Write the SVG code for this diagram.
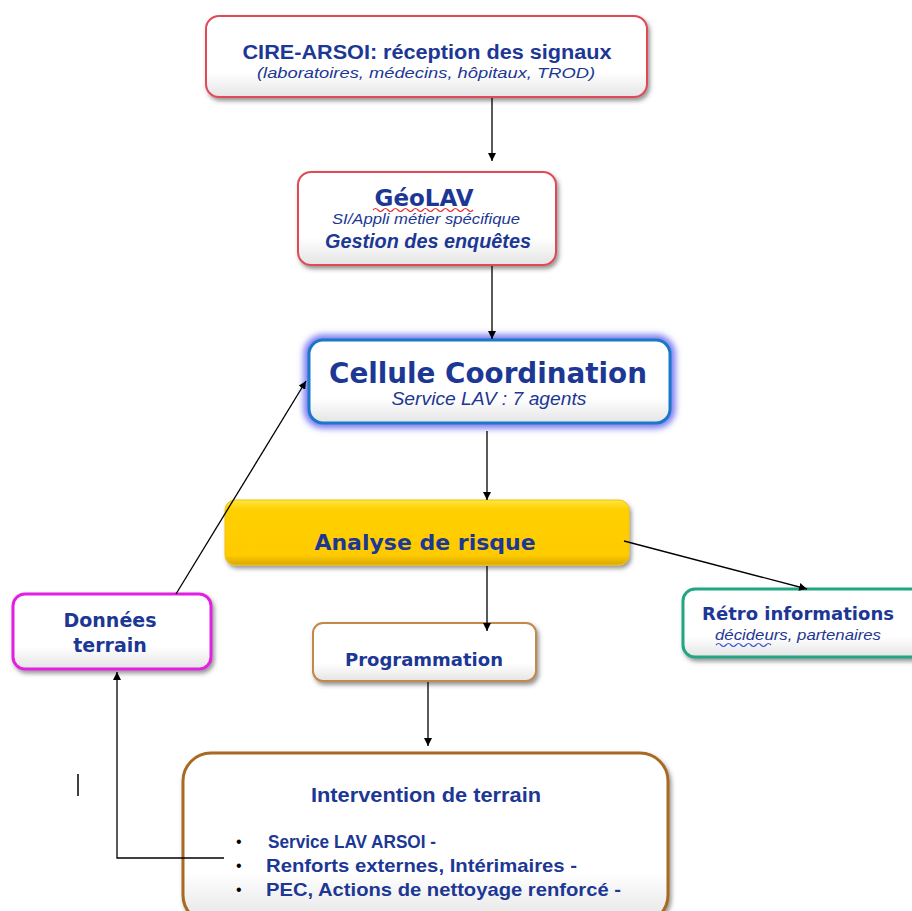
<svg xmlns="http://www.w3.org/2000/svg" width="912" height="911" viewBox="0 0 912 911">
<defs>
<style>
.t{fill:#1c3794;font-family:"Liberation Sans",Arial,sans-serif;}
.v{fill:#1c3794;font-family:"DejaVu Sans",Verdana,sans-serif;font-weight:bold;}
.b{font-weight:bold;}
.i{font-style:italic;}
.k{fill:#000;font-family:"Liberation Sans",Arial,sans-serif;}
.box{fill:url(#wg);filter:url(#sh);}
.ln{stroke:#000;stroke-width:1.3;fill:none;}
</style>
<linearGradient id="wg" x1="0" y1="0" x2="0" y2="1">
<stop offset="0" stop-color="#ffffff"/>
<stop offset="0.7" stop-color="#ffffff"/>
<stop offset="1" stop-color="#e4e4e4"/>
</linearGradient>
<linearGradient id="yg" x1="0" y1="0" x2="0" y2="1">
<stop offset="0" stop-color="#ffe640"/>
<stop offset="0.15" stop-color="#ffd000"/>
<stop offset="0.85" stop-color="#ffcb00"/>
<stop offset="1" stop-color="#d9a800"/>
</linearGradient>
<filter id="sh" x="-10%" y="-20%" width="125%" height="150%">
<feDropShadow dx="2" dy="3" stdDeviation="2" flood-color="#404040" flood-opacity="0.55"/>
</filter>
<filter id="glow" x="-20%" y="-40%" width="140%" height="180%">
<feGaussianBlur stdDeviation="3"/>
</filter>
<marker id="ah" viewBox="0 0 10 10" refX="10" refY="5" markerWidth="8" markerHeight="8" markerUnits="userSpaceOnUse" orient="auto">
<path d="M0,0 L10,5 L0,10 z" fill="#000"/>
</marker>
</defs>
<rect width="912" height="911" fill="#fff"/>

<g id="cire">
<rect class="box" x="206" y="16" width="441" height="81" rx="13" stroke="#e04a55" stroke-width="2"/>
<text class="t b" x="427" y="59" font-size="20" text-anchor="middle" textLength="369" lengthAdjust="spacingAndGlyphs">CIRE-ARSOI: réception des signaux</text>
<text class="t i" x="426" y="78" font-size="15" text-anchor="middle" textLength="338" lengthAdjust="spacingAndGlyphs">(laboratoires, médecins, hôpitaux, TROD)</text>
</g>

<g id="geolav">
<rect class="box" x="298" y="172" width="258" height="93" rx="13" stroke="#e04a55" stroke-width="2"/>
<text class="v" x="424" y="206" font-size="23" text-anchor="middle">GéoLAV</text>
<path d="M373,210 q2.5,-3 5,0 t5,0 t5,0 t5,0 t5,0 t5,0 t5,0 t5,0 t5,0 t5,0 t5,0 t5,0 t5,0 t5,0 t5,0 t5,0 t5,0 t5,0 t5,0 t5,0" fill="none" stroke="#e03030" stroke-width="1.2"/>
<text class="t i" x="426" y="224" font-size="15" text-anchor="middle" textLength="188" lengthAdjust="spacingAndGlyphs">SI/Appli métier spécifique</text>
<text class="t b i" x="428" y="248" font-size="20" text-anchor="middle" textLength="206" lengthAdjust="spacingAndGlyphs">Gestion des enquêtes</text>
</g>

<g id="cellule">
<rect x="309" y="340" width="361" height="83" rx="14" fill="none" stroke="#7c7cf2" stroke-width="11" filter="url(#glow)"/>
<rect x="309" y="340" width="361" height="83" rx="14" fill="url(#wg)" stroke="#1a78c8" stroke-width="3"/>
<text class="v" x="488" y="383" font-size="28" text-anchor="middle" textLength="318" lengthAdjust="spacingAndGlyphs">Cellule Coordination</text>
<text class="t i" x="489" y="405" font-size="18" text-anchor="middle" textLength="195" lengthAdjust="spacingAndGlyphs">Service LAV : 7 agents</text>
</g>

<g id="analyse">
<rect x="225" y="500" width="404" height="65" rx="10" fill="url(#yg)" stroke="#f2c200" stroke-width="1" filter="url(#sh)"/>
<text class="v" x="425" y="550" font-size="22" text-anchor="middle">Analyse de risque</text>
</g>

<g id="donnees">
<rect class="box" x="13" y="594" width="198" height="75" rx="12" stroke="#e020e0" stroke-width="3"/>
<text class="v" x="110" y="627" font-size="19" text-anchor="middle">Données</text>
<text class="v" x="110" y="652" font-size="19" text-anchor="middle">terrain</text>
</g>

<g id="retro">
<rect class="box" x="683" y="589" width="240" height="68" rx="12" stroke="#23a585" stroke-width="3"/>
<text class="v" x="798" y="620" font-size="18" text-anchor="middle">Rétro informations</text>
<text class="t i" x="798" y="640" font-size="15" text-anchor="middle" textLength="166" lengthAdjust="spacingAndGlyphs">décideurs, partenaires</text>
<path d="M716,645 q2.5,-3 5,0 t5,0 t5,0 t5,0 t5,0 t5,0 t5,0 t5,0 t5,0 t5,0 t5,0" fill="none" stroke="#3a50d0" stroke-width="1.2"/>
</g>

<g id="programmation">
<rect class="box" x="313" y="623" width="223" height="58" rx="10" stroke="#c08a4a" stroke-width="2"/>
<text class="v" x="424" y="666" font-size="18" text-anchor="middle">Programmation</text>
</g>

<g id="intervention">
<rect class="box" x="183" y="753" width="485" height="170" rx="28" stroke="#a86a20" stroke-width="3"/>
<text class="t b" x="426" y="802" font-size="21" text-anchor="middle" textLength="230" lengthAdjust="spacingAndGlyphs">Intervention de terrain</text>
<text class="k" x="236" y="847" font-size="16">•</text>
<text class="k" x="236" y="871" font-size="16">•</text>
<text class="k" x="236" y="895" font-size="16">•</text>
<text class="t b" x="268" y="848" font-size="19" textLength="168" lengthAdjust="spacingAndGlyphs">Service  LAV ARSOI -</text>
<text class="t b" x="266" y="872" font-size="19" textLength="311" lengthAdjust="spacingAndGlyphs">Renforts externes, Intérimaires -</text>
<text class="t b" x="266" y="896" font-size="19" textLength="355" lengthAdjust="spacingAndGlyphs">PEC, Actions de nettoyage renforcé -</text>
</g>

<g id="connectors">
<line class="ln" x1="492" y1="98" x2="492" y2="161" marker-end="url(#ah)"/>
<line class="ln" x1="492" y1="266" x2="492" y2="339" marker-end="url(#ah)"/>
<line class="ln" x1="487" y1="431" x2="487" y2="500" marker-end="url(#ah)"/>
<line class="ln" x1="176" y1="594" x2="306" y2="381" marker-end="url(#ah)"/>
<line class="ln" x1="624" y1="541" x2="807" y2="589" marker-end="url(#ah)"/>
<line class="ln" x1="487" y1="566" x2="487" y2="631" marker-end="url(#ah)"/>
<line class="ln" x1="428" y1="682" x2="428" y2="746" marker-end="url(#ah)"/>
<polyline class="ln" points="224,858 117,858 117,672" marker-end="url(#ah)"/>
</g>

<line x1="78" y1="774" x2="78" y2="796" stroke="#000" stroke-width="1.5"/>
</svg>
